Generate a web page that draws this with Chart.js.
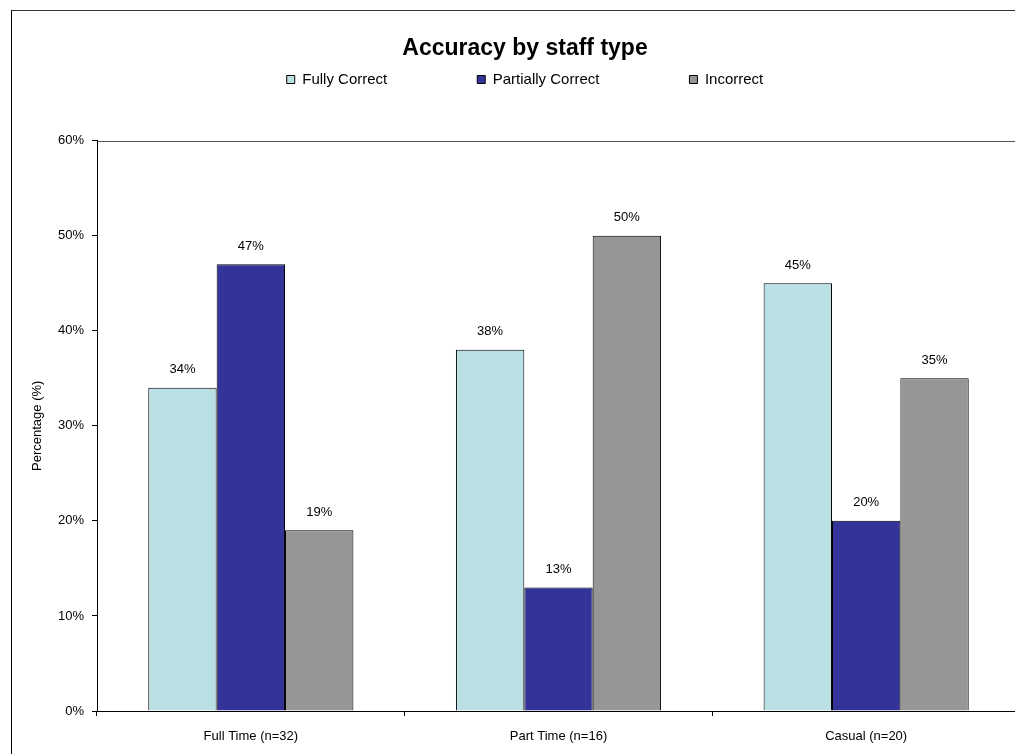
<!DOCTYPE html>
<html>
<head>
<meta charset="utf-8">
<script src="https://cdn.jsdelivr.net/npm/chart.js@4.4.0/dist/chart.umd.min.js"></script>
<style>
  html, body { margin: 0; padding: 0; background: #fff; overflow: hidden; width: 1015px; height: 754px; }
  #frame { position: absolute; left: 11px; top: 10px; border-left: 1px solid #000; border-top: 1px solid #333; width: 1030px; height: 760px; overflow: hidden; }
  #c { position: absolute; left: 0; top: -29px; display: block; }
</style>
</head>
<body>
<div id="frame"><canvas id="c" width="1030" height="790" style="width:1030px;height:790px"></canvas></div>
<script>
const categories = ['Full Time (n=32)', 'Part Time (n=16)', 'Casual (n=20)'];
const seriesNames = ['Fully Correct', 'Partially Correct', 'Incorrect'];
const fullyCorrect = [34, 38, 45];
const partiallyCorrect = [47, 13, 20];
const incorrect = [19, 50, 35];
const yMin = 0, yMax = 60, yStep = 10;
const colors = ['#BBE0E3', '#333399', '#969696'];

const FONT = "'Liberation Sans', Arial, sans-serif";
Chart.defaults.font.family = FONT;
Chart.defaults.font.size = 13;
Chart.defaults.color = '#000';

const LEGEND_PAD = 90;
const LEGEND_FONT = 15;

const plotBorder = {
  id: 'plotBorder',
  beforeDraw(chart) {
    const {ctx, chartArea: a} = chart;
    ctx.save();
    ctx.strokeStyle = '#555';
    ctx.lineWidth = 1;
    ctx.strokeRect(Math.round(a.left) + 0.5, Math.round(a.top) + 0.5, Math.round(a.right - a.left), Math.round(a.bottom - a.top));
    ctx.restore();
  }
};

const valueLabels = {
  id: 'valueLabels',
  afterDatasetsDraw(chart) {
    const {ctx} = chart;
    ctx.save();
    ctx.font = '13px ' + FONT;
    ctx.fillStyle = '#000';
    ctx.textAlign = 'center';
    ctx.textBaseline = 'middle';
    chart.data.datasets.forEach((ds, i) => {
      chart.getDatasetMeta(i).data.forEach((el, j) => {
        ctx.fillText(ds.data[j] + '%', el.x, el.y - 18);
      });
    });
    ctx.restore();
  }
};

const series = [fullyCorrect, partiallyCorrect, incorrect];

new Chart(document.getElementById('c'), {
  type: 'bar',
  data: {
    labels: categories,
    datasets: series.map((d, i) => ({
      label: seriesNames[i],
      data: d,
      backgroundColor: colors[i],
      borderColor: '#000',
      borderWidth: 1,
      categoryPercentage: 0.6667,
      barPercentage: 1.0
    }))
  },
  options: {
    responsive: false,
    animation: false,
    devicePixelRatio: 1,
    layout: { padding: { left: 18, right: 22, top: 0, bottom: 0 } },
    plugins: {
      legend: {
        position: 'top',
        weight: 3000,
        maxHeight: LEGEND_PAD + LEGEND_FONT + 10,
        labels: {
          boxWidth: 8,
          boxHeight: 8,
          padding: LEGEND_PAD,
          font: { size: LEGEND_FONT, family: FONT },
          color: '#000'
        }
      },
      title: {
        display: true,
        text: 'Accuracy by staff type',
        font: { size: 23, weight: 'bold', family: FONT },
        color: '#000',
        padding: { top: -62, bottom: 78 }
      },
      tooltip: { enabled: false }
    },
    scales: {
      x: {
        grid: { display: true, drawOnChartArea: false, drawTicks: true, tickLength: 5, offset: true, color: '#000' },
        border: { display: true, color: '#000', width: 1 },
        ticks: { padding: 13, color: '#000', font: { size: 13 }, maxRotation: 0 },
        afterFit(scale) { scale.height = 61; }
      },
      y: {
        min: yMin,
        max: yMax,
        ticks: { stepSize: yStep, padding: 8, color: '#000', font: { size: 13 }, callback: v => v + '%' },
        grid: { display: true, drawOnChartArea: false, drawTicks: true, tickLength: 5, color: '#000' },
        border: { display: true, color: '#000', width: 1 },
        title: { display: true, text: 'Percentage (%)', color: '#000', font: { size: 13 }, padding: { top: 0, bottom: 0 } },
        afterFit(scale) { scale.width = 67; }
      }
    }
  },
  plugins: [plotBorder, valueLabels]
});
</script>
</body>
</html>
